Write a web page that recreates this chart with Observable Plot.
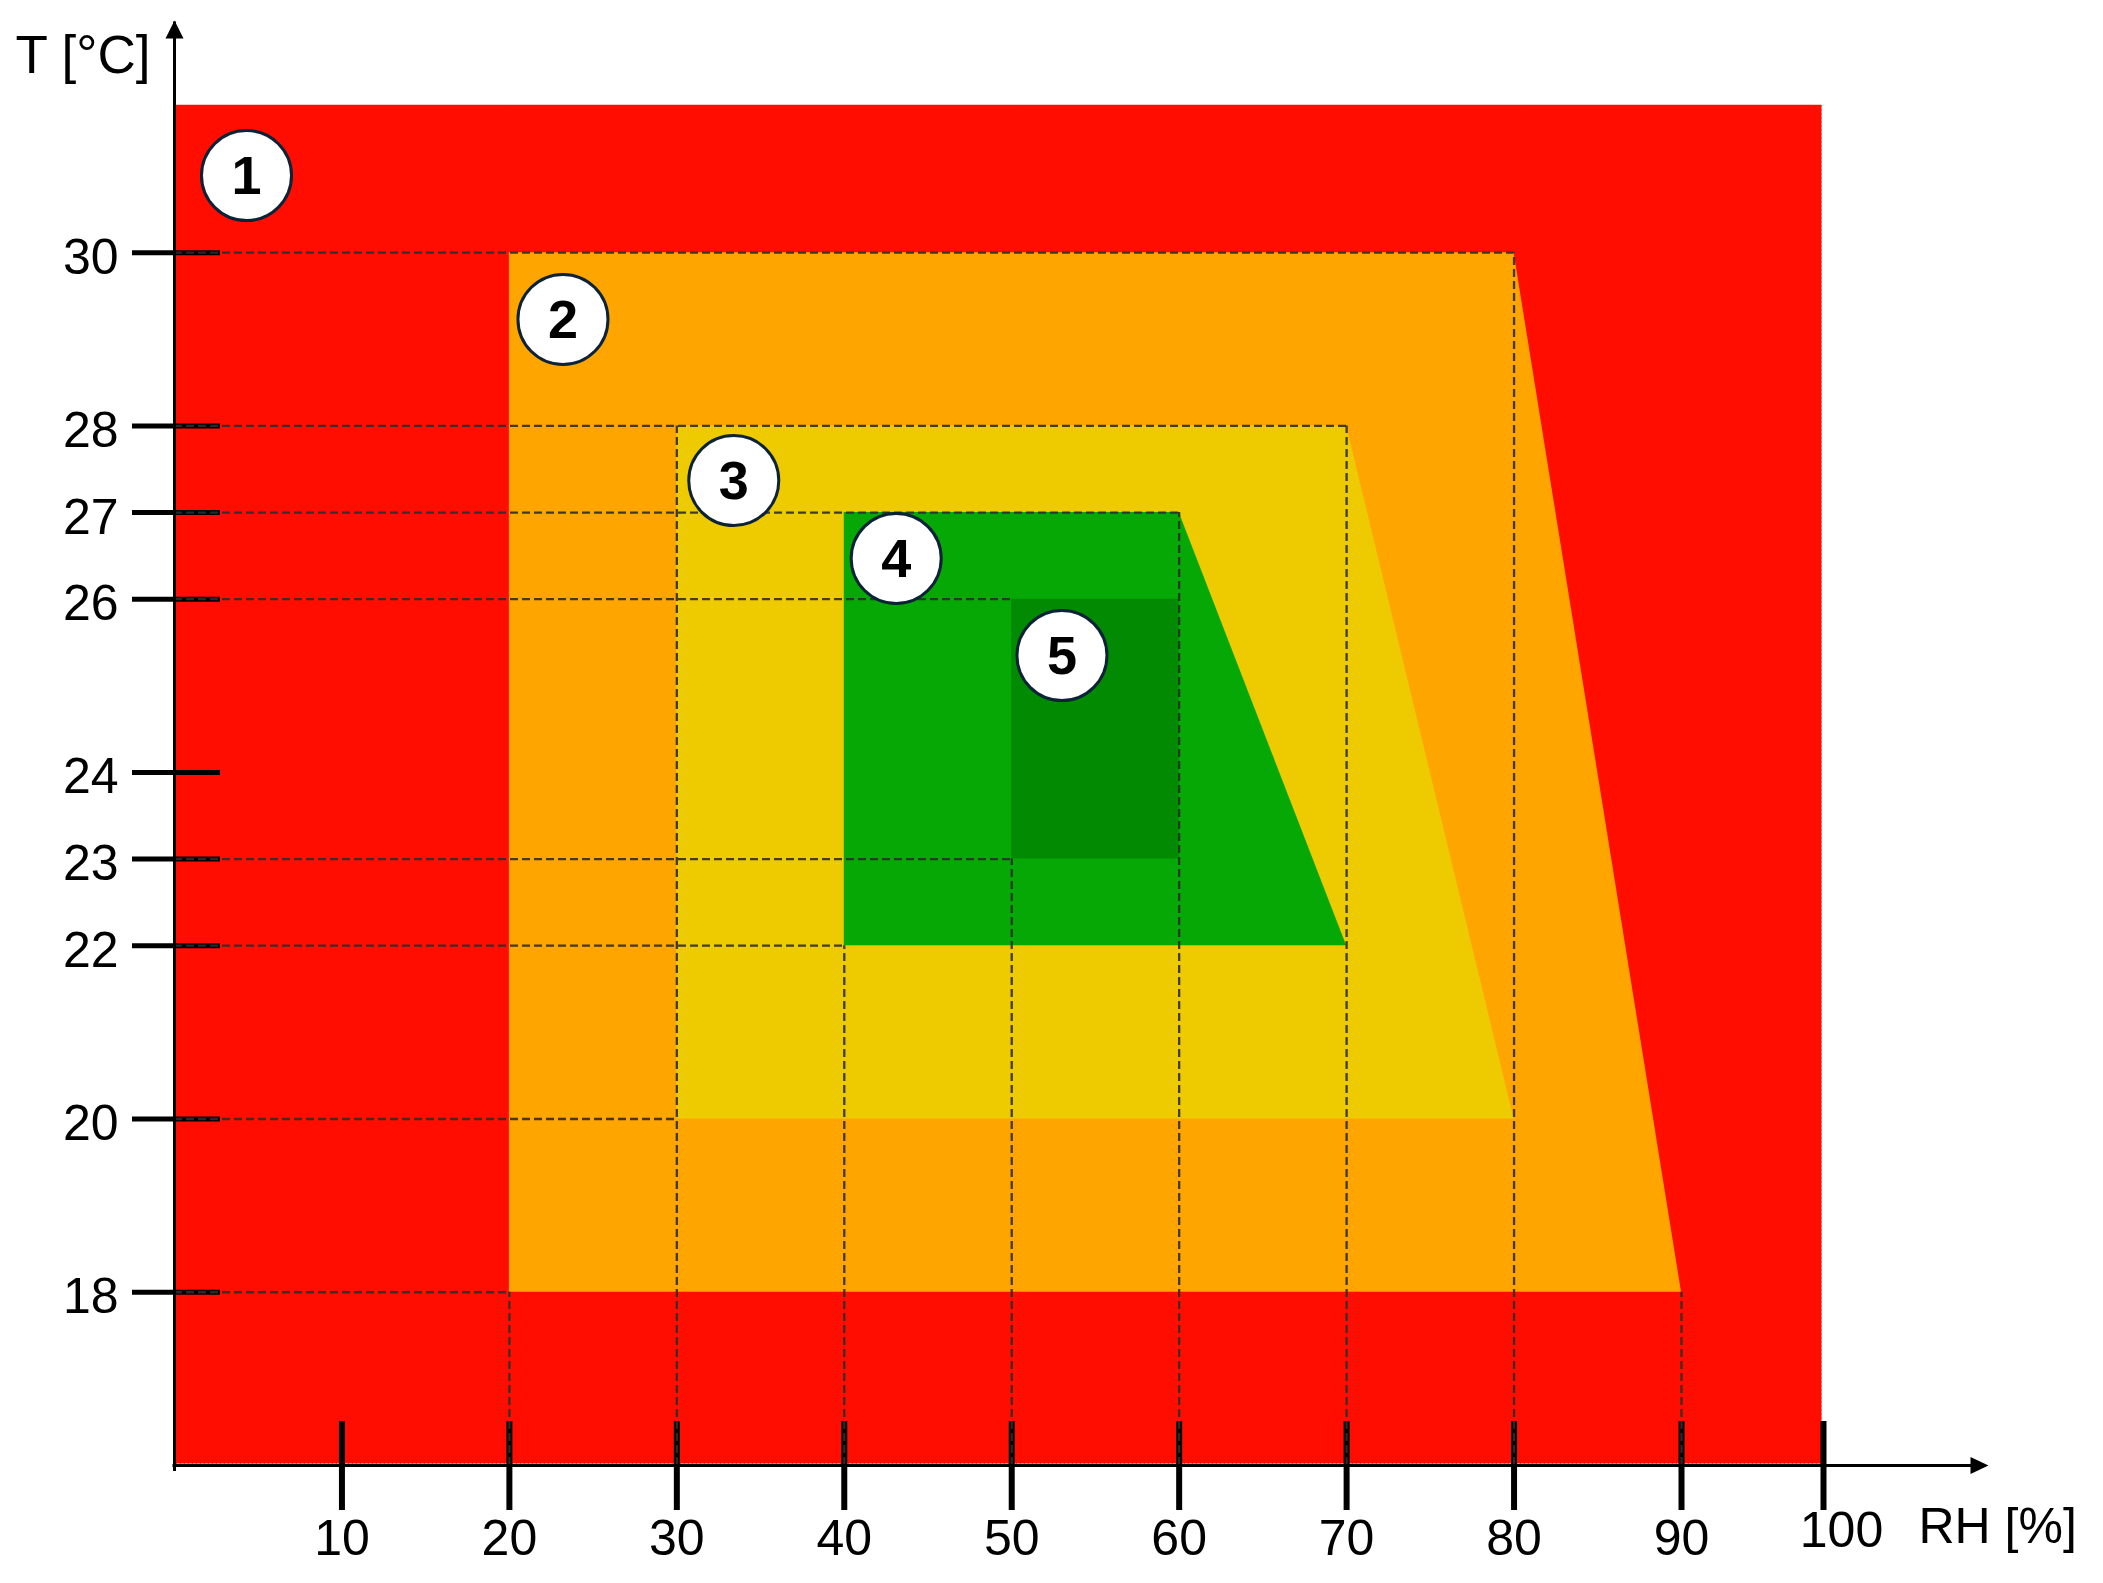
<!DOCTYPE html>
<html>
<head>
<meta charset="utf-8">
<script src="https://cdn.jsdelivr.net/npm/d3@7"></script>
<script src="https://cdn.jsdelivr.net/npm/@observablehq/plot@0.6"></script>
<style>
  html, body { margin: 0; padding: 0; background: #ffffff; }
  svg { display: block; }
</style>
</head>
<body>
<script>
// ---- Data ----
// Comfort zones: temperature band and RH edges (right edge may slant)
const zoneIds = [1, 2, 3, 4, 5];
const zoneTBottom = [16, 18, 20, 22, 23];
const zoneTTop = [31.72, 30, 28, 27, 26];
const zoneRHLeft = [0, 20, 30, 40, 50];
const zoneRHRightBottom = [100, 90, 80, 70, 60];
const zoneRHRightTop = [100, 80, 70, 60, 60];
const zoneColors = ["#ff0d00", "#ffa500", "#edcb00", "#05a805", "#028b02"];

// Axis ticks
const xTicks = [10, 20, 30, 40, 50, 60, 70, 80, 90, 100];
const yTicks = [18, 20, 22, 23, 24, 26, 27, 28, 30];

// Dashed guide lines: horizontal (T level, from RH 0 to RH end)
const guideHT = [30, 28, 27, 26, 23, 22, 20, 18];
const guideHRH = [80, 70, 60, 50, 50, 40, 30, 20];
// Vertical (RH level, from axis up to T end)
const guideVRH = [20, 30, 40, 50, 60, 70, 80, 90];
const guideVT = [18, 28, 22, 23, 27, 28, 30, 18];

// Numbered zone markers
const markerLabels = ["1", "2", "3", "4", "5"];
const markerRH = [4.3, 23.2, 33.4, 43.1, 53.0];
const markerT = [30.89, 29.23, 27.37, 26.47, 25.35];

// Axis extents
const RH_MIN = 0, RH_BREAK = 90, RH_MAX = 100;
const T_MIN = 16, T_MAX = 32.68;

// ---- Layout / style ----
const W = 2103, H = 1583;
const FONT = "'Liberation Sans', Arial, Helvetica, sans-serif";
const guideStyle = {stroke: "#2e2e2e", strokeWidth: 2.3, strokeDasharray: "8,4", strokeOpacity: 0.9};

const zoneRows = zoneIds.map((id, i) => [
  {zone: id, t: zoneTBottom[i], l: zoneRHLeft[i], r: zoneRHRightBottom[i]},
  {zone: id, t: zoneTTop[i], l: zoneRHLeft[i], r: zoneRHRightTop[i]}
]);

const markers = markerLabels.map((label, i) => ({label, rh: markerRH[i], t: markerT[i]}));

const arrowUp = {draw(ctx) { ctx.moveTo(0, 0); ctx.lineTo(9, 18); ctx.lineTo(-9, 18); ctx.closePath(); }};
const arrowRight = {draw(ctx) { ctx.moveTo(0, 0); ctx.lineTo(-18, -8.5); ctx.lineTo(-18, 8.5); ctx.closePath(); }};

const chart = Plot.plot({
  width: W,
  height: H,
  marginLeft: 174,
  marginTop: 20,
  marginBottom: 118,
  marginRight: 280,
  style: {fontFamily: FONT, fontSize: "50px", background: "#ffffff", color: "#000000", overflow: "visible"},
  x: {type: "linear", axis: null, domain: [RH_MIN, RH_BREAK, RH_MAX], range: [174, 1681, 1823]},
  y: {type: "linear", axis: null, domain: [T_MIN, T_MAX], range: [1465, 20]},
  marks: [
    // zones
    ...zoneRows.map((rows, i) => Plot.areaX(rows, {
      y: "t", x1: "l", x2: "r",
      fill: zoneColors[i],
      stroke: i === 0 ? "#ffffff" : "none",
      strokeWidth: i === 0 ? 3 : 0,
      strokeDasharray: i === 0 ? "2,2" : null
    })),
    // tick marks crossing the axes
    Plot.ruleX(xTicks, {x: d => d, y1: T_MIN, y2: T_MIN, insetTop: -44, insetBottom: -45, stroke: "#000", strokeWidth: 6}),
    Plot.ruleY(yTicks, {y: d => d, x1: RH_MIN, x2: RH_MIN, insetLeft: -42, insetRight: -46, stroke: "#000", strokeWidth: 5}),
    // dashed guides
    Plot.ruleY(guideHT, {y: d => d, x1: RH_MIN, x2: (d, i) => guideHRH[i], ...guideStyle}),
    Plot.ruleX(guideVRH, {x: d => d, y1: T_MIN, y2: (d, i) => guideVT[i], ...guideStyle}),
    // axis lines + arrowheads
    Plot.ruleX([RH_MIN], {x: d => d, y1: T_MIN, y2: T_MAX, insetTop: 6, insetBottom: -1.5, stroke: "#000", strokeWidth: 3}),
    Plot.ruleY([T_MIN], {y: d => d, x1: RH_MIN, x2: RH_MAX, insetLeft: -1.5, insetRight: -155, stroke: "#000", strokeWidth: 3}),
    Plot.dot([RH_MIN], {x: d => d, y: T_MAX, symbol: arrowUp, fill: "#000", stroke: "none"}),
    Plot.dot([RH_MAX], {x: d => d, y: T_MIN, dx: 165, symbol: arrowRight, fill: "#000", stroke: "none"}),
    // tick labels
    Plot.text(xTicks.filter(d => d !== RH_MAX), {x: d => d, y: T_MIN, text: d => String(d), dy: 73, fontSize: 50, fill: "#000"}),
    Plot.text(xTicks.filter(d => d === RH_MAX), {x: d => d, y: T_MIN, text: d => String(d), dx: 18, dy: 65, fontSize: 50, fill: "#000"}),
    Plot.text(yTicks, {x: RH_MIN, y: d => d, text: d => String(d), textAnchor: "end", dx: -56, dy: 5, fontSize: 50, fill: "#000"}),
    // axis titles
    Plot.text(["T [°C]"], {frameAnchor: "top-left", text: d => d, textAnchor: "end", lineAnchor: "top", dx: -24, dy: 15, fontSize: 53, fill: "#000"}),
    Plot.text(["RH [%]"], {x: RH_MAX, y: T_MIN, text: d => d, textAnchor: "start", dx: 95, dy: 61, fontSize: 50, fill: "#000"}),
    // numbered markers
    Plot.dot(markers, {x: "rh", y: "t", r: 45, fill: "#ffffff", stroke: "#0c2236", strokeWidth: 3}),
    Plot.text(markers, {x: "rh", y: "t", text: "label", fontSize: 54, fontWeight: "bold", fill: "#000", dy: 1})
  ]
});

document.body.appendChild(chart);
</script>
</body>
</html>
